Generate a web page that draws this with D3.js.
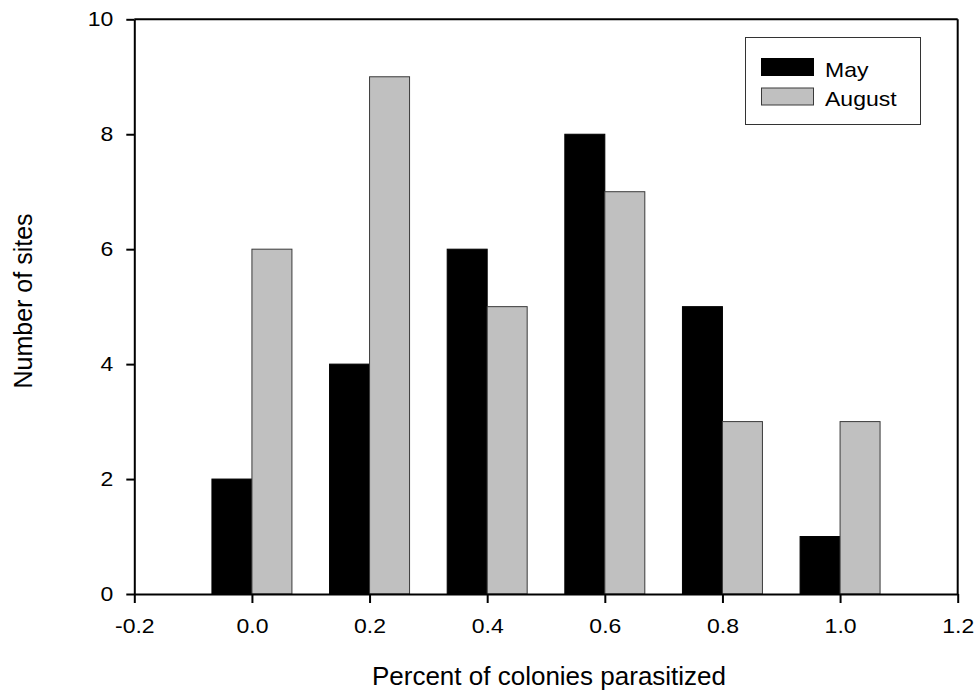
<!DOCTYPE html>
<html><head><meta charset="utf-8">
<script src="https://cdn.jsdelivr.net/npm/d3@7"></script>
<style>body{margin:0;background:#fff}svg{display:block}text{font-family:Arial,"Liberation Sans",sans-serif;fill:#000}</style>
</head><body>
<svg id="c" width="978" height="694"></svg>
<script>
const categories = [0.0, 0.2, 0.4, 0.6, 0.8, 1.0];
const mayValues = [2, 4, 6, 8, 5, 1];
const augustValues = [6, 9, 5, 7, 3, 3];
const xTicks = [-0.2, 0.0, 0.2, 0.4, 0.6, 0.8, 1.0, 1.2];
const yTicks = [0, 2, 4, 6, 8, 10];
const seriesNames = ["May", "August"];
const barWidth = 0.068;

const svg = d3.select("#c");
const L = 134.3, R = 957.7, T = 19.3, B = 594;
const x = d3.scaleLinear().domain([-0.2, 1.2]).range([L, R]);
const y = d3.scaleLinear().domain([0, 10]).range([B, T]);
const colors = ["#000000", "#c0c0c0"];
const strokes = ["#000000", "#3a3a3a"];
const FONT = "Arial, 'Liberation Sans', sans-serif";
const SX = 1.15;

const series = [mayValues, augustValues];
series.forEach((vals, si) => {
  svg.append("g").selectAll("rect").data(categories).enter().append("rect")
    .attr("x", d => si === 0 ? x(d - barWidth) : x(d))
    .attr("width", x(barWidth) - x(0))
    .attr("y", (d, i) => y(vals[i]))
    .attr("height", (d, i) => y(0) - y(vals[i]))
    .attr("fill", colors[si]).attr("stroke", strokes[si]).attr("stroke-width", 1);
});

// frame
svg.append("line").attr("x1", L).attr("x2", R).attr("y1", T).attr("y2", T).attr("stroke", "#000").attr("stroke-width", 2);
svg.append("line").attr("x1", R).attr("x2", R).attr("y1", T).attr("y2", B).attr("stroke", "#000").attr("stroke-width", 2);

const xAxis = svg.append("g").attr("transform", `translate(0,${B})`)
  .call(d3.axisBottom(x).tickValues(xTicks).tickFormat(d3.format(".1f")).tickSize(9).tickPadding(9).tickSizeOuter(0));
const yAxis = svg.append("g").attr("transform", `translate(${L},0)`)
  .call(d3.axisLeft(y).tickValues(yTicks).tickFormat(d3.format("d")).tickSize(8).tickPadding(13).tickSizeOuter(0));
[xAxis, yAxis].forEach(a => {
  a.attr("font-size", null).attr("font-family", null);
  a.select(".domain").attr("stroke", "#000").attr("stroke-width", 2);
  a.selectAll(".tick line").attr("stroke", "#000").attr("stroke-width", 2);
  a.selectAll(".tick text").style("font-size", "20px").style("font-family", FONT).attr("fill", "#000");
});
xAxis.selectAll(".tick text").text(d => d3.format(".1f")(d).replace("−", "-"))
  .attr("dy", null).attr("y", 39).attr("transform", `scale(${SX},1)`);
yAxis.selectAll(".tick text").attr("x", -21 / SX).attr("transform", `scale(${SX},1)`);

svg.append("text").attr("x", 549).attr("y", 685).attr("text-anchor", "middle").style("font-size", "26px").text("Percent of colonies parasitized");
svg.append("text").attr("transform", "translate(32,301) rotate(-90)").attr("text-anchor", "middle").style("font-size", "25px").text("Number of sites");

// legend
const lg = svg.append("g");
lg.append("rect").attr("x", 745.5).attr("y", 37.5).attr("width", 175).attr("height", 87).attr("fill", "#fff").attr("stroke", "#333").attr("stroke-width", 1);
seriesNames.forEach((n, i) => {
  const yy = 58.5 + i * 29.5;
  lg.append("rect").attr("x", 761.5).attr("y", yy).attr("width", 52).attr("height", 17).attr("fill", colors[i]).attr("stroke", strokes[i]);
  lg.append("text").attr("transform", `translate(825,${yy + 18}) scale(${SX},1)`).style("font-size", "20px").text(n);
});
</script>
</body></html>
